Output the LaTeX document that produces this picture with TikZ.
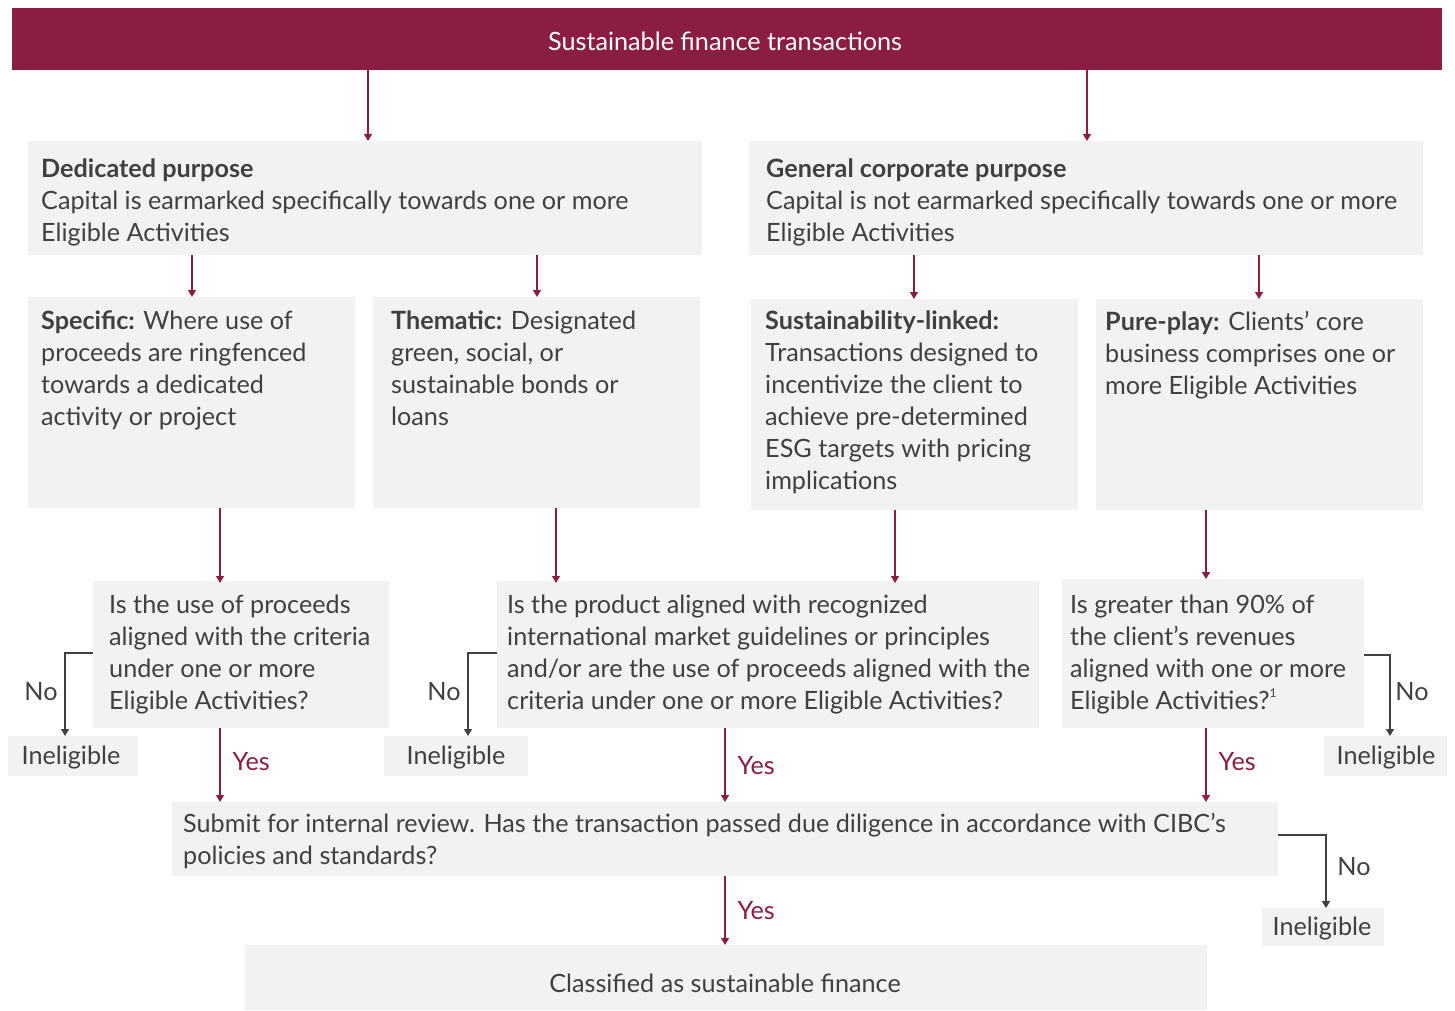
\documentclass[tikz,border=0pt]{standalone}
\usepackage{fontspec}
\setmainfont{Lato}
\usetikzlibrary{arrows.meta}
\definecolor{burg}{HTML}{8B1D40}
\definecolor{boxgray}{HTML}{F2F2F2}
\definecolor{txtgray}{HTML}{404040}
\newcommand{\mainsize}{\fontsize{25.2}{32}\selectfont}
\tikzset{
  box/.style={fill=boxgray, draw=none, inner sep=0pt, anchor=north west},
  txt/.style={anchor=north west, align=left, inner sep=0pt, text=txtgray, font=\mainsize},
  ctxt/.style={anchor=center, align=center, inner sep=0pt, text=txtgray, font=\mainsize},
  arr/.style={-{Triangle[width=8pt,length=7pt]}, draw=burg, line width=1.3pt},
  noarr/.style={-{Triangle[width=8pt,length=7pt]}, draw=txtgray, line width=1.3pt},
  yes/.style={text=burg, font=\mainsize, inner sep=0pt, anchor=west},
  nolab/.style={text=txtgray, font=\mainsize, inner sep=0pt, anchor=center},
}
\begin{document}
\begin{tikzpicture}[x=1pt,y=-1pt]
\useasboundingbox (0,0) rectangle (1455,1011);
% banner
\node[fill=burg, inner sep=0pt, anchor=north west, minimum width=1430pt, minimum height=62pt] (top) at (12,8) {};
\node[text=white, font=\mainsize, inner sep=0pt] (toptxt) at (725,41) {Sustainable finance transactions};
% level 1
\node[box, minimum width=674pt, minimum height=114pt] (ded) at (28,141) {};
\node[txt] (dedt) at (41,159) {\textbf{Dedicated purpose}\\Capital is earmarked specifically towards one or more\\Eligible Activities};
\node[box, minimum width=674pt, minimum height=114pt] (gen) at (749,141) {};
\node[txt] (gent) at (766,159) {\textbf{General corporate purpose}\\Capital is not earmarked specifically towards one or more\\Eligible Activities};
% level 2
\node[box, minimum width=327pt, minimum height=211pt] (spec) at (28,297) {};
\node[txt] (spect) at (41,311) {\textbf{Specific:} Where use of\\proceeds are ringfenced\\towards a dedicated\\activity or project};
\node[box, minimum width=327pt, minimum height=211pt] (them) at (373,297) {};
\node[txt] (themt) at (391,311) {\textbf{Thematic:} Designated\\green, social, or\\sustainable bonds or\\loans};
\node[box, minimum width=327pt, minimum height=211pt] (sust) at (751,299) {};
\node[txt] (sustt) at (765,311) {\textbf{Sustainability-linked:}\\Transactions designed to\\incentivize the client to\\achieve pre-determined\\ESG targets with pricing\\implications};
\node[box, minimum width=327pt, minimum height=211pt] (pure) at (1096,299) {};
\node[txt] (puret) at (1105,311) {\textbf{Pure-play:} Clients’ core\\business comprises one or\\more Eligible Activities};
% questions
\node[box, minimum width=296pt, minimum height=147pt] (q1) at (93,581) {};
\node[txt] (q1t) at (109,595) {Is the use of proceeds\\aligned with the criteria\\under one or more\\Eligible Activities?};
\node[box, minimum width=542pt, minimum height=147pt] (q2) at (497,581) {};
\node[txt] (q2t) at (507,595) {Is the product aligned with recognized\\international market guidelines or principles\\and/or are the use of proceeds aligned with the\\criteria under one or more Eligible Activities?};
\node[box, minimum width=302pt, minimum height=149pt] (q3) at (1062,579) {};
\node[txt] (q3t) at (1070,595) {Is greater than 90\% of\\the client’s revenues\\aligned with one or more\\Eligible Activities?\raisebox{12pt}{\fontsize{12}{12}\selectfont 1}};
% ineligible
\node[box, minimum width=130pt, minimum height=40pt] (in1) at (8,736) {};
\node[ctxt] (in1t) at (71,758) {Ineligible};
\node[box, minimum width=144pt, minimum height=40pt] (in2) at (384,736) {};
\node[ctxt] (in2t) at (456,758) {Ineligible};
\node[box, minimum width=123pt, minimum height=40pt] (in3) at (1324,736) {};
\node[ctxt] (in3t) at (1386,758) {Ineligible};
\node[box, minimum width=122pt, minimum height=38pt] (in4) at (1262,908) {};
\node[ctxt] (in4t) at (1322,929) {Ineligible};
% review
\node[box, minimum width=1106pt, minimum height=74pt] (rev) at (172,802) {};
\node[txt] (revt) at (183,813) {Submit for internal review. Has the transaction passed due diligence in accordance with CIBC’s\\policies and standards?};
\node[box, minimum width=962pt, minimum height=65pt] (fin) at (245,945) {};
\node[ctxt] (fint) at (725,983) {Classified as sustainable finance};
% coordinates
\coordinate (c1) at (65,653);
\coordinate (c2) at (468,653);
\coordinate (c3) at (1390,655);
\coordinate (c4) at (1326,835);
% arrows
\draw[arr] (top.south -| 368,0) -- (ded.north -| 368,0);
\draw[arr] (top.south -| 1087,0) -- (gen.north -| 1087,0);
\draw[arr] (ded.south -| 192,0) -- (spec.north -| 192,0);
\draw[arr] (ded.south -| 537,0) -- (them.north -| 537,0);
\draw[arr] (gen.south -| 914,0) -- (sust.north -| 914,0);
\draw[arr] (gen.south -| 1259,0) -- (pure.north -| 1259,0);
\draw[arr] (spec.south -| 220,0) -- ([yshift=-2pt]q1.north -| 220,0);
\draw[arr] (them.south -| 556,0) -- ([yshift=-2pt]q2.north -| 556,0);
\draw[arr] (sust.south -| 895,0) -- ([yshift=-2pt]q2.north -| 895,0);
\draw[arr] (pure.south -| 1206,0) -- (q3.north -| 1206,0);
\draw[arr] (q1.south -| 220,0) -- node[yes, pos=0.45, xshift=12pt] (y1) {Yes} (rev.north -| 220,0);
\draw[arr] (q2.south -| 725,0) -- node[yes, pos=0.5, xshift=12pt] (y2) {Yes} (rev.north -| 725,0);
\draw[arr] (q3.south -| 1206,0) -- node[yes, pos=0.45, xshift=12pt] (y3) {Yes} (rev.north -| 1206,0);
\draw[arr] (rev.south -| 725,0) -- node[yes, pos=0.5, xshift=12pt] (y4) {Yes} (fin.north -| 725,0);
\draw[noarr] (q1.west |- c1) -| (in1.north -| c1);
\draw[noarr] (q2.west |- c2) -| (in2.north -| c2);
\draw[noarr] (q3.east |- c3) -| (in3.north -| c3);
\draw[noarr] (rev.east |- c4) -| (in4.north -| c4);
\node[nolab] (n1) at (41,692) {No};
\node[nolab] (n2) at (444,692) {No};
\node[nolab] (n3) at (1412,692) {No};
\node[nolab] (n4) at (1354,867) {No};
\end{tikzpicture}
\end{document}
